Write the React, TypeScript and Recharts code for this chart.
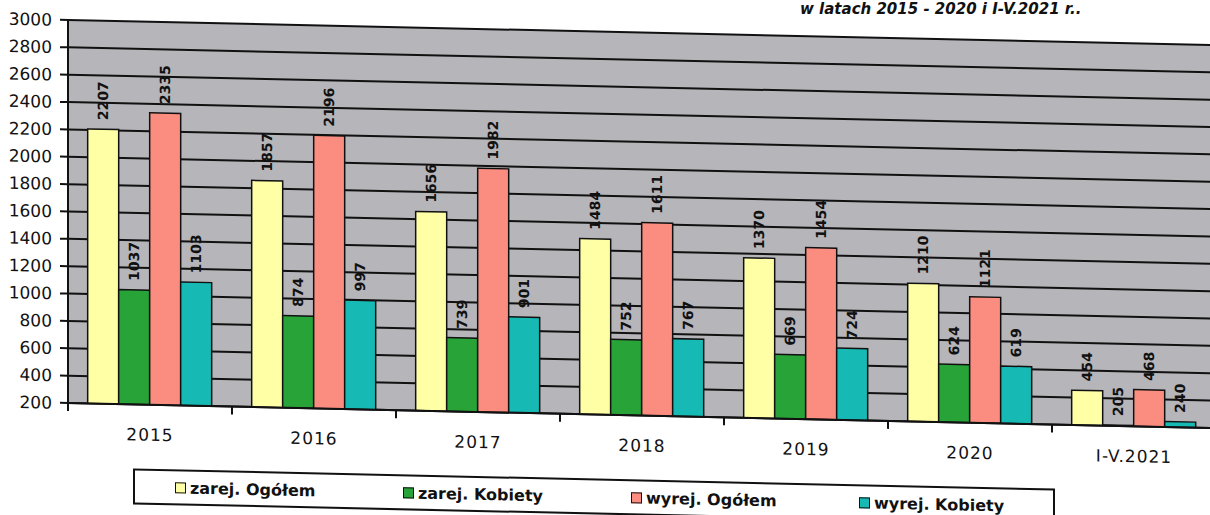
import { BarChart, Bar, XAxis, YAxis, CartesianGrid, LabelList } from "recharts";

const categories = ["2015", "2016", "2017", "2018", "2019", "2020", "I-V.2021"];
const zarejOgolem = [2207, 1857, 1656, 1484, 1370, 1210, 454];
const zarejKobiety = [1037, 874, 739, 752, 669, 624, 205];
const wyrejOgolem = [2335, 2196, 1982, 1611, 1454, 1121, 468];
const wyrejKobiety = [1103, 997, 901, 767, 724, 619, 240];
const yTicks = [200, 400, 600, 800, 1000, 1200, 1400, 1600, 1800, 2000, 2200, 2400, 2600, 2800, 3000];

const data = categories.map((name, i) => ({
  name,
  zo: zarejOgolem[i],
  zk: zarejKobiety[i],
  wo: wyrejOgolem[i],
  wk: wyrejKobiety[i],
}));

const series = [
  { key: "zo", label: "zarej. Ogółem", color: "#ffffa6" },
  { key: "zk", label: "zarej. Kobiety", color: "#27a338" },
  { key: "wo", label: "wyrej. Ogółem", color: "#fa8c80" },
  { key: "wk", label: "wyrej. Kobiety", color: "#16b9b3" },
];

const CHART_W = 1216;
const CHART_H = 515;
const AXIS_W = 68;
const BAND = (CHART_W - AXIS_W) / categories.length;
const FONT = "'DejaVu Sans', Arial, sans-serif";

const ValueLabel = (props: any) => {
  const { x, y, width, value } = props;
  return (
    <text
      transform={`translate(${x + width / 2}, ${y - 9}) rotate(-90)`}
      textAnchor="start"
      dominantBaseline="central"
      fontFamily={FONT}
      fontWeight="bold"
      fontSize={14}
      fill="#111"
    >
      {value}
    </text>
  );
};

const XTick = (props: any) => {
  const { x, y, payload, index } = props;
  return (
    <g>
      {index === 0 && <line x1={x - BAND / 2} x2={x - BAND / 2} y1={y} y2={y + 8} stroke="#111" strokeWidth={2} />}
      <line x1={x + BAND / 2} x2={x + BAND / 2} y1={y} y2={y + 8} stroke="#111" strokeWidth={2} />
      <text x={x} y={y + 30} textAnchor="middle" dominantBaseline="central" fontFamily={FONT} fontSize={17} letterSpacing={1} fill="#111">
        {payload.value}
      </text>
    </g>
  );
};

export default function App() {
  return (
    <div style={{ position: "absolute", left: 0, top: 0, width: 1210, height: 515, overflow: "hidden", background: "#fff" }}>
      <div
        style={{
          position: "absolute", left: 800, top: 1, fontFamily: FONT, fontStyle: "italic", fontWeight: "bold",
          fontSize: 15, lineHeight: "16px", color: "#111", whiteSpace: "nowrap",
        }}
      >
        w latach 2015 - 2020 i I-V.2021 r..
      </div>
      <div style={{ position: "absolute", left: 0, top: 0, transform: "skewY(1.25deg)", transformOrigin: "68px 0px" }}>
        <BarChart
          width={CHART_W}
          height={CHART_H}
          data={data}
          margin={{ top: 20, right: 0, left: 0, bottom: 82 }}
          barGap={0}
          barCategoryGap="12%"
        >
          <CartesianGrid vertical={false} fill="#b5b5ba" stroke="#111" strokeWidth={2} />
          <YAxis
            width={AXIS_W}
            domain={[200, 3000]}
            ticks={yTicks}
            allowDataOverflow
            axisLine={{ stroke: "#111", strokeWidth: 2 }}
            tickLine={{ stroke: "#111", strokeWidth: 2 }}
            tickSize={8}
            tickMargin={8}
            tick={{ fontFamily: FONT, fontSize: 17, fill: "#111" }}
          />
          <XAxis
            dataKey="name"
            height={30}
            axisLine={{ stroke: "#111", strokeWidth: 2 }}
            tickLine={false}
            tickSize={0}
            tickMargin={0}
            interval={0}
            tick={<XTick />}
          />
          {series.map((s) => (
            <Bar key={s.key} dataKey={s.key} fill={s.color} stroke="#111" strokeWidth={1.5} isAnimationActive={false}>
              <LabelList dataKey={s.key} content={<ValueLabel />} />
            </Bar>
          ))}
        </BarChart>
        <div
          style={{
            position: "absolute", left: 133, top: 467, width: 918, height: 32, border: "2px solid #111",
            background: "#fff", fontFamily: FONT, fontWeight: "bold", fontSize: 16, color: "#111",
          }}
        >
          {series.map((s, i) => (
            <div
              key={s.key}
              style={{ position: "absolute", left: 40 + i * 228, top: 0, height: 32, display: "flex", alignItems: "center", whiteSpace: "nowrap" }}
            >
              <span style={{ display: "inline-block", width: 9, height: 9, border: "1.5px solid #111", background: s.color, marginRight: 4 }} />
              {s.label}
            </div>
          ))}
        </div>
      </div>
    </div>
  );
}
